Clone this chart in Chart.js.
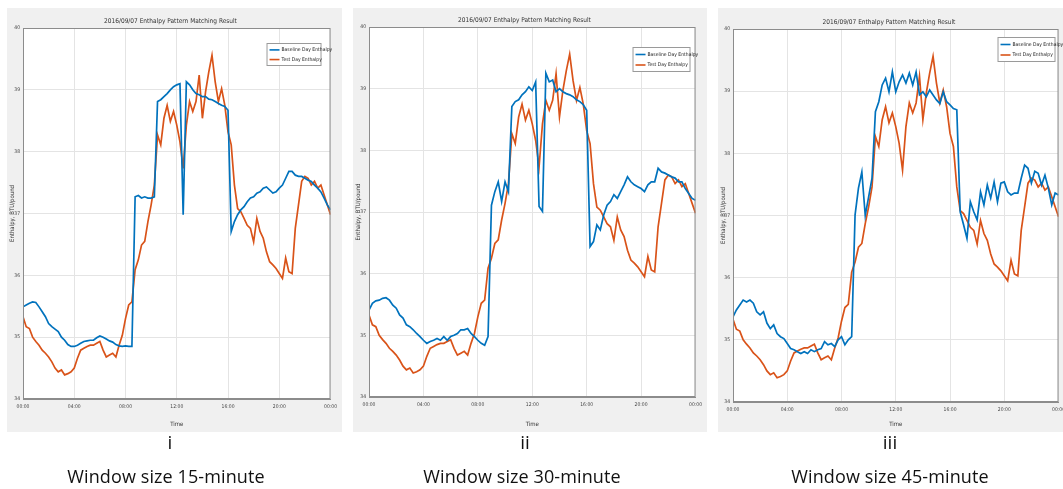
<!DOCTYPE html>
<html>
<head>
<meta charset="utf-8">
<script src="https://cdn.jsdelivr.net/npm/chart.js@4.4.1/dist/chart.umd.min.js"></script>
<style>
  html, body { margin: 0; padding: 0; background: #fff; width: 1063px; height: 489px; overflow: hidden; }
  .panel { position: absolute; background: #f0f0f0; }
  .cap { position: absolute; width: 300px; text-align: center; font-family: "Open Sans", sans-serif; color: #111; }
  .num { font-size: 19px; top: 429px; }
  .win { font-size: 18px; top: 464px; letter-spacing: 0.1px; }
</style>
</head>
<body>
<div class="panel" style="left:7px;top:8px;width:335px;height:424px"><canvas id="c1"></canvas></div>
<div class="panel" style="left:353px;top:8px;width:354px;height:424px"><canvas id="c2"></canvas></div>
<div class="panel" style="left:718px;top:8px;width:352px;height:424px"><canvas id="c3"></canvas></div>

<div class="cap num" style="left:20px">i</div>
<div class="cap win" style="left:16px">Window size 15-minute</div>
<div class="cap num" style="left:375px">ii</div>
<div class="cap win" style="left:372px">Window size 30-minute</div>
<div class="cap num" style="left:740px">iii</div>
<div class="cap win" style="left:740px">Window size 45-minute</div>

<script>
// readings every 15 minutes, 00:00 .. 24:00
const STEP_HOURS = 0.25;
const timeTicks = ['00:00', '04:00', '08:00', '12:00', '16:00', '20:00', '00:00'];
const seriesNames = ['Baseline Day Enthalpy', 'Test Day Enthalpy'];

const testDay = [
  35.33, 35.17, 35.14, 35.0, 34.93, 34.87, 34.79, 34.74, 34.68, 34.6, 34.5, 34.44, 34.47, 34.39, 34.41, 34.44,
  34.5, 34.66, 34.79, 34.82, 34.85, 34.87, 34.87, 34.9, 34.93, 34.79, 34.68, 34.71, 34.74, 34.68, 34.87, 35.03,
  35.3, 35.52, 35.57, 36.09, 36.25, 36.49, 36.55, 36.87, 37.14, 37.46, 38.27, 38.11, 38.54, 38.75, 38.49, 38.65,
  38.43, 38.16, 37.73, 38.43, 38.81, 38.65, 38.81, 39.24, 38.54, 38.97, 39.29, 39.56, 39.13, 38.81, 39.02, 38.75,
  38.32, 38.11, 37.46, 37.08, 37.03, 36.92, 36.81, 36.76, 36.54, 36.92, 36.71, 36.6, 36.38, 36.22, 36.17, 36.11,
  36.03, 35.95, 36.28, 36.06, 36.03, 36.76, 37.14, 37.52, 37.6, 37.57, 37.46, 37.52, 37.41, 37.46, 37.3, 37.14,
  36.98
];

const baseline15 = [
  35.49, 35.52, 35.55, 35.57, 35.56, 35.49, 35.41, 35.33, 35.22, 35.17, 35.13, 35.09, 35.0, 34.95, 34.88, 34.85,
  34.85, 34.87, 34.9, 34.93, 34.94, 34.95, 34.95, 34.99, 35.02, 35.0, 34.97, 34.94, 34.92, 34.88, 34.86, 34.85,
  34.86, 34.85, 34.85, 37.27, 37.29, 37.25, 37.27, 37.25, 37.25, 37.27, 38.81, 38.84, 38.89, 38.94, 39.0, 39.05,
  39.08, 39.1, 36.98, 39.13, 39.08, 39.0, 38.94, 38.92, 38.89, 38.89, 38.85, 38.84, 38.81, 38.78, 38.75, 38.73,
  38.67, 36.71, 36.87, 36.98, 37.06, 37.11, 37.19, 37.25, 37.27, 37.33, 37.35, 37.41, 37.43, 37.38, 37.33, 37.35,
  37.41, 37.46, 37.57, 37.68, 37.68, 37.62, 37.6, 37.6, 37.57, 37.54, 37.52, 37.46, 37.41, 37.35, 37.25, 37.14,
  37.06
];

const baseline30 = [
  35.41, 35.52, 35.56, 35.57, 35.6, 35.61, 35.57, 35.49, 35.44, 35.33, 35.28, 35.17, 35.14, 35.09, 35.03, 34.98,
  34.92, 34.87, 34.9, 34.92, 34.95, 34.92, 34.98, 34.92, 34.98, 35.0, 35.03, 35.09, 35.09, 35.11, 35.03, 34.98,
  34.92, 34.87, 34.84, 34.98, 37.11, 37.33, 37.49, 37.17, 37.49, 37.33, 38.71, 38.79, 38.82, 38.9, 38.95, 39.03,
  38.97, 39.11, 37.09, 37.01, 39.25, 39.11, 39.14, 38.95, 39.0, 38.95, 38.92, 38.9, 38.87, 38.82, 38.79, 38.74,
  38.65, 36.44, 36.52, 36.79, 36.71, 36.95, 37.11, 37.17, 37.28, 37.22, 37.33, 37.44, 37.57, 37.49, 37.44, 37.41,
  37.38, 37.33, 37.44, 37.49, 37.49, 37.71, 37.65, 37.63, 37.6, 37.57, 37.55, 37.49, 37.49, 37.38, 37.3, 37.22,
  37.19
];

const baseline45 = [
  35.37, 35.48, 35.56, 35.64, 35.61, 35.64, 35.59, 35.45, 35.4, 35.45, 35.27, 35.18, 35.24, 35.1, 35.05, 35.02,
  34.94, 34.86, 34.84, 34.81, 34.78, 34.81, 34.78, 34.84, 34.81, 34.84, 34.86, 34.97, 34.92, 34.94, 34.89, 35.0,
  35.05, 34.92, 35.0, 35.05, 37.01, 37.44, 37.7, 37.0, 37.3, 37.6, 38.67, 38.83, 39.1, 39.21, 38.99, 39.31,
  38.99, 39.15, 39.26, 39.13, 39.29, 39.1, 39.31, 38.94, 38.99, 38.91, 39.02, 38.94, 38.86, 38.8, 38.99, 38.83,
  38.78, 38.72, 38.7, 37.06, 36.85, 36.63, 37.22, 37.06, 36.93, 37.38, 37.17, 37.49, 37.28, 37.54, 37.22, 37.52,
  37.54, 37.38, 37.33, 37.36, 37.36, 37.6, 37.81, 37.76, 37.52, 37.71, 37.68, 37.49, 37.65, 37.44, 37.17, 37.36,
  37.33
];

const BLUE = '#0072BD';
const ORANGE = '#D95319';
const FONT = "'Liberation Sans Narrow', 'DejaVu Sans Condensed', 'Liberation Sans', sans-serif";

const toPoints = vals => vals.map((v, i) => ({ x: i * STEP_HOURS, y: v }));

// white axes background
const plotBackground = {
  id: 'plotBackground',
  beforeDraw(chart) {
    const { ctx, chartArea: a } = chart;
    ctx.save();
    ctx.fillStyle = '#fff';
    ctx.fillRect(a.left, a.top, a.right - a.left, a.bottom - a.top);
    ctx.restore();
  }
};

// axes box on all four sides + legend drawn inside the plot (MATLAB style)
const frameAndLegend = {
  id: 'frameAndLegend',
  afterDatasetsDraw(chart, args, opts) {
    const { ctx, chartArea: a } = chart;
    ctx.save();
    ctx.strokeStyle = '#8c8c8c';
    ctx.lineWidth = 1;
    ctx.strokeRect(a.left + 0.5, a.top + 0.5, a.right - a.left - 1, a.bottom - a.top - 1);

    const x = a.right - opts.right - opts.w;
    const y = a.top + opts.top;
    ctx.fillStyle = '#fff';
    ctx.fillRect(x, y, opts.w, opts.h);
    ctx.strokeStyle = '#9a9a9a';
    ctx.strokeRect(x + 0.5, y + 0.5, opts.w - 1, opts.h - 1);
    ctx.font = '5px ' + FONT;
    ctx.textBaseline = 'middle';
    chart.data.datasets.forEach((ds, i) => {
      const ly = y + opts.h * (0.3 + 0.42 * i);
      ctx.strokeStyle = ds.borderColor;
      ctx.lineWidth = 1.6;
      ctx.beginPath();
      ctx.moveTo(x + 3, ly);
      ctx.lineTo(x + 13, ly);
      ctx.stroke();
      ctx.fillStyle = '#222';
      ctx.fillText(ds.label, x + 15, ly);
    });
    ctx.restore();
  }
};

function makePanel(id, baseline, geo) {
  return new Chart(document.getElementById(id), {
    type: 'line',
    data: {
      datasets: [
        { label: seriesNames[0], data: toPoints(baseline), borderColor: BLUE, borderWidth: 1.7 },
        { label: seriesNames[1], data: toPoints(testDay), borderColor: ORANGE, borderWidth: 1.7 }
      ]
    },
    plugins: [plotBackground, frameAndLegend],
    options: {
      responsive: true,
      maintainAspectRatio: false,
      animation: false,
      elements: { point: { radius: 0 }, line: { tension: 0 } },
      layout: { padding: { left: 0, right: geo.padRight, top: 0, bottom: 0 } },
      plugins: {
        legend: { display: false },
        tooltip: { enabled: false },
        title: {
          display: true,
          text: '2016/09/07 Enthalpy Pattern Matching Result',
          color: '#333',
          font: { family: FONT, size: 6.5, weight: 'normal' },
          padding: { top: geo.titleH - 10.8, bottom: 3 }
        },
        frameAndLegend: geo.legend
      },
      scales: {
        x: {
          type: 'linear',
          min: 0,
          max: 24,
          afterFit: s => { s.height = geo.xH; },
          ticks: {
            stepSize: 4,
            autoSkip: false,
            maxRotation: 0,
            padding: 5,
            color: '#444',
            font: { family: FONT, size: 5 },
            callback: v => timeTicks[v / 4]
          },
          grid: { color: '#e4e4e4', drawTicks: false },
          border: { color: '#8c8c8c' },
          title: {
            display: true,
            text: 'Time',
            color: '#333',
            font: { family: FONT, size: 6 },
            padding: { top: 2, bottom: 4 }
          }
        },
        y: {
          min: 34,
          max: 40,
          afterFit: s => { s.width = geo.yW; },
          ticks: {
            stepSize: 1,
            padding: 3,
            color: '#444',
            font: { family: FONT, size: 5 }
          },
          grid: { color: '#e4e4e4', drawTicks: false },
          border: { color: '#8c8c8c' },
          title: {
            display: true,
            text: 'Enthalpy, BTU/pound',
            color: '#333',
            font: { family: FONT, size: 6 },
            padding: { top: 1.5, bottom: 0 }
          }
        }
      }
    }
  });
}

makePanel('c1', baseline15, {
  padRight: 8, titleH: 20, xH: 33, yW: 16,
  legend: { right: 9, top: 15, w: 55, h: 23 }
});
makePanel('c2', baseline30, {
  padRight: 11, titleH: 19, xH: 35, yW: 16,
  legend: { right: 5, top: 20, w: 58, h: 25 }
});
makePanel('c3', baseline45, {
  padRight: 10, titleH: 21, xH: 30, yW: 15,
  legend: { right: 3, top: 8, w: 58, h: 25 }
});
</script>
</body>
</html>
